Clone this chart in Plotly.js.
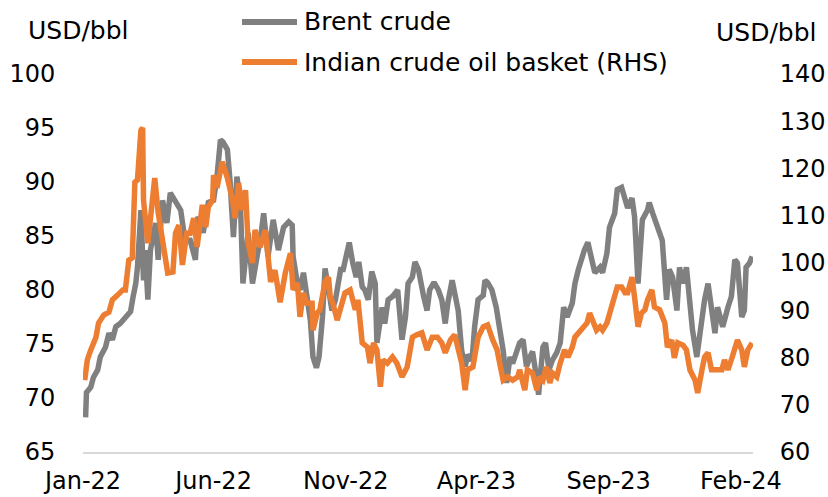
<!DOCTYPE html>
<html>
<head>
<meta charset="utf-8">
<script src="https://cdn.plot.ly/plotly-3.0.1.min.js"></script>
<style>html,body{margin:0;padding:0;background:#fff;}#chart{width:828px;height:497px;}</style>
</head>
<body>
<div id="chart"></div>
<script>
const brentDates = ["2022-01-04","2022-01-05","2022-01-10","2022-01-13","2022-01-18","2022-01-21","2022-01-27","2022-01-31","2022-02-04","2022-02-08","2022-02-13","2022-02-19","2022-02-25","2022-02-28","2022-03-03","2022-03-05","2022-03-09","2022-03-12","2022-03-14","2022-03-17","2022-03-20","2022-03-26","2022-03-29","2022-04-03","2022-04-08","2022-04-12","2022-04-18","2022-04-24","2022-04-29","2022-05-05","2022-05-11","2022-05-14","2022-05-20","2022-05-26","2022-06-01","2022-06-05","2022-06-09","2022-06-12","2022-06-17","2022-06-20","2022-06-24","2022-06-28","2022-07-02","2022-07-05","2022-07-11","2022-07-16","2022-07-22","2022-07-25","2022-07-29","2022-08-03","2022-08-09","2022-08-15","2022-08-21","2022-08-27","2022-08-31","2022-09-01","2022-09-06","2022-09-09","2022-09-13","2022-09-17","2022-09-21","2022-09-24","2022-09-28","2022-10-01","2022-10-05","2022-10-08","2022-10-12","2022-10-16","2022-10-20","2022-10-26","2022-10-29","2022-11-03","2022-11-05","2022-11-09","2022-11-13","2022-11-16","2022-11-20","2022-11-23","2022-11-27","2022-12-01","2022-12-05","2022-12-07","2022-12-13","2022-12-16","2022-12-20","2022-12-25","2022-12-28","2022-12-31","2023-01-05","2023-01-09","2023-01-12","2023-01-17","2023-01-20","2023-01-24","2023-01-30","2023-02-03","2023-02-06","2023-02-11","2023-02-16","2023-02-20","2023-02-24","2023-02-27","2023-03-04","2023-03-07","2023-03-11","2023-03-15","2023-03-19","2023-03-22","2023-03-27","2023-03-30","2023-04-03","2023-04-09","2023-04-11","2023-04-14","2023-04-19","2023-04-24","2023-04-28","2023-05-02","2023-05-06","2023-05-10","2023-05-13","2023-05-18","2023-05-21","2023-05-25","2023-05-29","2023-06-02","2023-06-05","2023-06-10","2023-06-12","2023-06-17","2023-06-20","2023-06-24","2023-06-28","2023-07-03","2023-07-07","2023-07-11","2023-07-15","2023-07-21","2023-07-24","2023-07-28","2023-08-01","2023-08-04","2023-08-08","2023-08-12","2023-08-16","2023-08-22","2023-08-25","2023-08-30","2023-09-02","2023-09-08","2023-09-11","2023-09-16","2023-09-20","2023-09-23","2023-09-28","2023-10-01","2023-10-05","2023-10-10","2023-10-16","2023-10-18","2023-10-22","2023-10-27","2023-10-30","2023-11-02","2023-11-07","2023-11-10","2023-11-14","2023-11-19","2023-11-22","2023-11-26","2023-11-30","2023-12-04","2023-12-07","2023-12-12","2023-12-18","2023-12-21","2023-12-25","2023-12-29","2024-01-02","2024-01-05","2024-01-11","2024-01-17","2024-01-21","2024-01-25","2024-01-28","2024-02-02","2024-02-05","2024-02-07","2024-02-11","2024-02-14"];
const brentValues = [68.2,70.5,71.0,71.9,72.6,73.8,74.7,76.0,75.4,76.6,76.9,77.5,78.0,79.4,80.6,82.1,87.4,80.9,83.7,79.1,83.7,86.2,82.8,88.3,86.2,89.0,88.3,87.4,84.6,84.6,82.8,86.8,85.3,88.1,88.3,90.5,93.9,93.7,93.0,90.2,84.9,90.5,88.3,80.6,85.3,80.6,83.4,84.6,87.1,83.1,86.5,83.7,85.8,86.3,86.0,83.1,80.6,80.0,81.6,79.4,77.2,73.8,72.8,73.8,77.5,82.0,80.0,78.1,79.1,81.9,81.9,83.7,84.4,82.5,81.2,82.6,80.3,80.0,79.1,81.7,80.6,75.1,78.4,76.9,79.1,79.4,79.8,80.0,75.4,77.5,80.6,81.2,82.6,81.9,79.4,78.1,80.0,80.7,80.0,79.1,76.9,78.8,80.9,79.4,78.1,74.4,72.9,74.0,73.5,76.6,79.1,79.5,80.9,80.7,80.0,78.4,76.6,74.4,71.4,73.8,73.2,74.2,75.1,75.4,72.9,73.8,74.3,71.7,70.3,74.7,75.1,72.6,73.5,74.2,75.1,78.4,77.5,78.8,80.6,81.9,83.1,83.7,84.4,83.1,81.6,82.1,81.6,83.4,85.8,87.1,89.3,89.5,88.6,87.6,88.5,86.8,80.6,86.5,87.4,88.1,87.1,85.8,85.3,84.6,79.1,81.9,81.2,78.1,82.1,80.6,82.1,78.4,76.3,73.8,77.9,79.1,80.6,77.9,76.0,78.4,76.6,78.4,79.4,82.8,82.5,77.5,78.1,82.1,82.5,83.1];

const indianDates = ["2022-01-03","2022-01-06","2022-01-10","2022-01-16","2022-01-19","2022-01-25","2022-01-31","2022-02-04","2022-02-10","2022-02-16","2022-02-19","2022-02-23","2022-02-27","2022-03-02","2022-03-05","2022-03-09","2022-03-11","2022-03-12","2022-03-17","2022-03-20","2022-03-25","2022-03-29","2022-04-04","2022-04-09","2022-04-15","2022-04-18","2022-04-22","2022-04-26","2022-05-01","2022-05-05","2022-05-09","2022-05-13","2022-05-19","2022-05-23","2022-05-26","2022-05-31","2022-06-01","2022-06-05","2022-06-11","2022-06-17","2022-06-23","2022-06-26","2022-06-30","2022-07-04","2022-07-08","2022-07-11","2022-07-16","2022-07-19","2022-07-25","2022-07-31","2022-08-06","2022-08-11","2022-08-17","2022-08-23","2022-08-29","2022-09-01","2022-09-06","2022-09-09","2022-09-13","2022-09-17","2022-09-23","2022-09-24","2022-09-29","2022-10-02","2022-10-08","2022-10-12","2022-10-14","2022-10-17","2022-10-22","2022-10-26","2022-10-31","2022-11-06","2022-11-12","2022-11-15","2022-11-20","2022-11-26","2022-11-29","2022-12-03","2022-12-07","2022-12-11","2022-12-14","2022-12-19","2022-12-25","2022-12-30","2023-01-05","2023-01-11","2023-01-17","2023-01-22","2023-01-28","2023-02-03","2023-02-09","2023-02-15","2023-02-20","2023-02-24","2023-03-02","2023-03-07","2023-03-11","2023-03-15","2023-03-19","2023-03-22","2023-03-28","2023-04-03","2023-04-09","2023-04-14","2023-04-20","2023-04-25","2023-04-28","2023-05-02","2023-05-07","2023-05-13","2023-05-19","2023-05-21","2023-05-27","2023-05-30","2023-06-05","2023-06-10","2023-06-13","2023-06-17","2023-06-21","2023-06-25","2023-06-28","2023-07-03","2023-07-07","2023-07-12","2023-07-16","2023-07-21","2023-07-24","2023-07-28","2023-08-01","2023-08-07","2023-08-10","2023-08-14","2023-08-18","2023-08-22","2023-08-25","2023-08-30","2023-09-02","2023-09-06","2023-09-11","2023-09-16","2023-09-20","2023-09-23","2023-09-28","2023-10-01","2023-10-05","2023-10-09","2023-10-13","2023-10-16","2023-10-21","2023-10-24","2023-10-30","2023-11-05","2023-11-08","2023-11-13","2023-11-16","2023-11-20","2023-11-26","2023-11-30","2023-12-04","2023-12-10","2023-12-13","2023-12-18","2023-12-21","2023-12-25","2023-12-29","2024-01-04","2024-01-10","2024-01-13","2024-01-17","2024-01-22","2024-01-28","2024-02-02","2024-02-05","2024-02-09","2024-02-14"];
const indianValues = [75.2,79.5,81.6,84.3,87.3,89.0,89.6,92.2,93.2,94.3,94.3,100.6,101.1,117.1,117.6,128.1,128.6,113.3,104.2,109.7,118.0,110.6,104.2,97.9,98.1,106.3,108.0,99.6,106.3,106.3,109.5,103.4,112.3,107.6,111.9,113.3,118.6,115.9,121.4,118.0,113.3,109.5,116.9,111.2,115.4,104.2,100.0,107.0,103.4,107.0,96.0,98.5,91.7,97.9,102.1,94.3,95.8,88.6,93.7,91.5,91.5,85.8,89.4,90.1,96.0,97.0,92.8,91.5,87.9,90.7,93.7,94.3,90.1,92.2,83.1,82.2,78.8,83.1,81.6,73.8,79.5,78.8,80.1,78.8,75.9,78.0,84.3,84.8,85.2,81.6,84.3,84.3,83.1,81.0,83.7,84.8,82.2,78.8,73.1,77.4,78.0,84.3,86.5,86.9,83.7,81.6,78.8,75.2,75.9,75.2,75.9,77.4,73.1,77.4,76.7,73.1,75.9,75.2,78.0,74.6,76.7,75.9,78.8,81.6,80.1,82.2,84.3,85.2,86.2,87.3,89.4,87.3,85.8,86.5,85.8,87.3,89.4,91.5,94.9,94.9,93.7,93.7,97.0,92.8,86.5,89.4,90.1,92.2,94.3,90.7,90.1,87.3,82.2,83.7,79.9,83.1,82.6,81.6,77.4,75.2,72.5,77.4,80.1,81.0,77.4,77.4,77.4,79.5,77.4,80.1,83.7,81.6,78.0,81.6,83.1];

const xTickVals = ["2022-01-01","2022-06-01","2022-11-01","2023-04-01","2023-09-01","2024-02-01"];
const xTickText = ["Jan-22","Jun-22","Nov-22","Apr-23","Sep-23","Feb-24"];
const leftTicks = [65,70,75,80,85,90,95,100];
const rightTicks = [60,70,80,90,100,110,120,130,140];
const seriesNames = ["Brent crude","Indian crude oil basket (RHS)"];
const unitLabel = "USD/bbl";

const FONT = "DejaVu Sans, sans-serif";
const GRAY = "#808080", ORANGE = "#ED7D31";

const traces = [
  {x: brentDates, y: brentValues, type: "scatter", mode: "lines", name: seriesNames[0],
   line: {color: GRAY, width: 5.5}, yaxis: "y", showlegend: false},
  {x: indianDates, y: indianValues, type: "scatter", mode: "lines", name: seriesNames[1],
   line: {color: ORANGE, width: 5.5}, yaxis: "y2", showlegend: false}
];

const layout = {
  width: 828, height: 497,
  margin: {l: 83, r: 75, t: 74, b: 45, pad: 0},
  paper_bgcolor: "#fff", plot_bgcolor: "#fff",
  font: {family: FONT, size: 24, color: "#000"},
  showlegend: false,
  xaxis: {
    type: "date", range: ["2022-01-01", "2024-02-15"],
    tickvals: xTickVals, ticktext: xTickText,
    showgrid: false, zeroline: false,
    showline: true, linecolor: "#d9d9d9", linewidth: 1.5,
    ticks: "outside", ticklen: 7, tickcolor: "rgba(0,0,0,0)",
    tickfont: {family: FONT, size: 24, color: "#000"}
  },
  yaxis: {
    range: [65, 100], tickvals: leftTicks,
    showgrid: false, zeroline: false, showline: false,
    ticks: "outside", ticklen: 22, tickcolor: "rgba(0,0,0,0)",
    tickfont: {family: FONT, size: 24, color: "#000"}
  },
  yaxis2: {
    range: [60, 140], tickvals: rightTicks, overlaying: "y", side: "right",
    showgrid: false, zeroline: false, showline: false,
    ticks: "outside", ticklen: 21, tickcolor: "rgba(0,0,0,0)",
    tickfont: {family: FONT, size: 24, color: "#000"}
  },
  shapes: [
    {type: "line", xref: "paper", yref: "paper", x0: 0.2373, x1: 0.3194, y0: 1.1376, y1: 1.1376,
     line: {color: GRAY, width: 6}},
    {type: "line", xref: "paper", yref: "paper", x0: 0.2373, x1: 0.3194, y0: 1.0317, y1: 1.0317,
     line: {color: ORANGE, width: 6}}
  ],
  annotations: [
    {text: unitLabel, xref: "paper", yref: "paper", x: -0.0851, y: 1.1164, xanchor: "left", yanchor: "middle",
     showarrow: false, font: {family: FONT, size: 25, color: "#000"}},
    {text: unitLabel, xref: "paper", yref: "paper", x: 0.9418, y: 1.1085, xanchor: "left", yanchor: "middle",
     showarrow: false, font: {family: FONT, size: 25, color: "#000"}},
    {text: seriesNames[0], xref: "paper", yref: "paper", x: 0.3269, y: 1.1376, xanchor: "left", yanchor: "middle",
     showarrow: false, font: {family: FONT, size: 25, color: "#000"}},
    {text: seriesNames[1], xref: "paper", yref: "paper", x: 0.3269, y: 1.0317, xanchor: "left", yanchor: "middle",
     showarrow: false, font: {family: FONT, size: 25, color: "#000"}}
  ]
};

Plotly.newPlot("chart", traces, layout, {displayModeBar: false, staticPlot: true});
</script>
</body>
</html>
